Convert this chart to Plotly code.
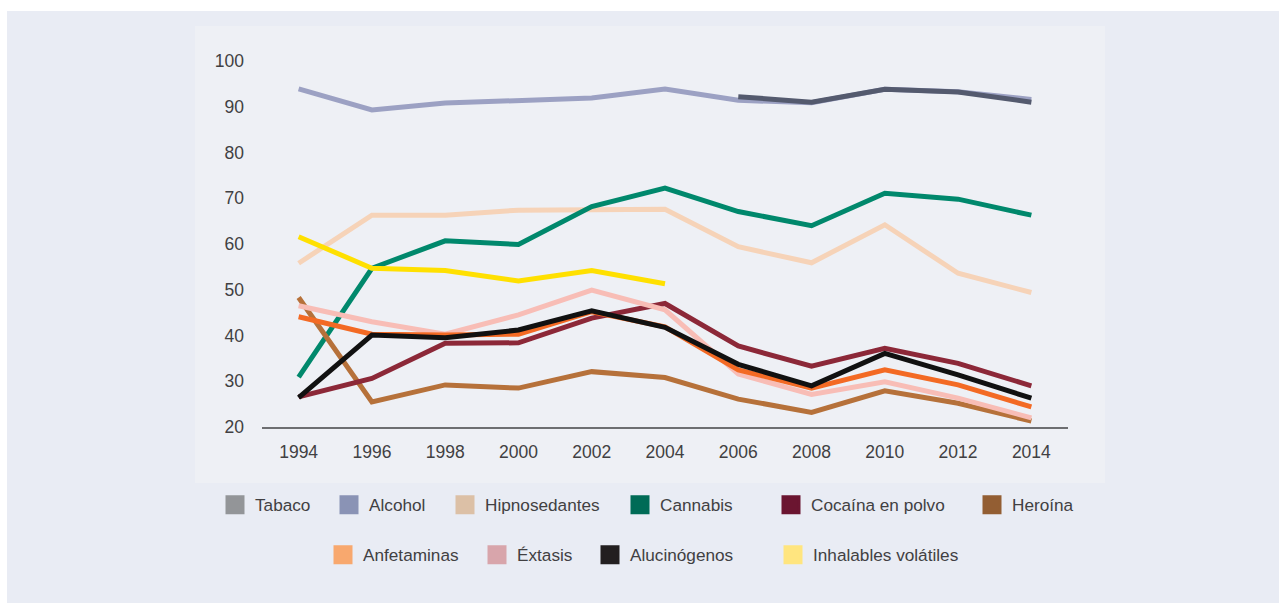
import plotly.graph_objects as go

# Survey years
years = [1994, 1996, 1998, 2000, 2002, 2004, 2006, 2008, 2010, 2012, 2014]

# Prevalence (%) per substance
tabaco = [None, None, None, None, None, None, 92.2, 91.0, 93.8, 93.2, 91.0]
alcohol = [93.9, 89.3, 90.8, 91.4, 91.9, 93.9, 91.4, 90.9, 93.8, 93.3, 91.6]
hipnosedantes = [55.8, 66.3, 66.3, 67.4, 67.5, 67.6, 59.4, 55.9, 64.2, 53.6, 49.4]
cannabis = [30.9, 54.7, 60.7, 59.9, 68.2, 72.2, 67.1, 64.0, 71.1, 69.8, 66.3]
cocaina = [26.6, 30.6, 38.3, 38.4, 43.8, 47.0, 37.7, 33.3, 37.2, 33.9, 29.0]
heroina = [48.3, 25.5, 29.2, 28.5, 32.1, 30.8, 26.1, 23.2, 27.9, 25.2, 21.3]
anfetaminas = [44.1, 40.3, 40.1, 40.3, 45.2, 41.9, 32.5, 28.5, 32.5, 29.2, 24.4]
extasis = [46.5, 43.0, 40.3, 44.5, 49.9, 45.6, 31.6, 27.1, 29.9, 26.3, 22.0]
alucinogenos = [26.4, 40.1, 39.5, 41.2, 45.4, 41.8, 33.7, 29.0, 36.1, 31.4, 26.3]
inhalables = [61.6, 54.7, 54.2, 51.9, 54.2, 51.3, None, None, None, None, None]

# Axis ticks
y_ticks = [20, 30, 40, 50, 60, 70, 80, 90, 100]
x_ticks = years

# (label, values, line colour), in drawing order
line_series = [
    ("Alcohol", alcohol, "#9ca1c3"),
    ("Hipnosedantes", hipnosedantes, "#f6d3b8"),
    ("Cannabis", cannabis, "#00886c"),
    ("Heroína", heroina, "#b6713a"),
    ("Cocaína en polvo", cocaina, "#8c2838"),
    ("Éxtasis", extasis, "#f8bdb6"),
    ("Anfetaminas", anfetaminas, "#f36a24"),
    ("Inhalables volátiles", inhalables, "#ffe000"),
    ("Alucinógenos", alucinogenos, "#111111"),
    ("Tabaco", tabaco, "#545a6e"),
]

# legend swatches: (label, swatch colour, swatch left px, row centre px)
legend_items = [
    ("Tabaco", "#939598", 226, 505),
    ("Alcohol", "#8a93b5", 340, 505),
    ("Hipnosedantes", "#dcc0a6", 456, 505),
    ("Cannabis", "#006b56", 631, 505),
    ("Cocaína en polvo", "#6b1530", 782, 505),
    ("Heroína", "#935e33", 983, 505),
    ("Anfetaminas", "#f8a86e", 334, 555),
    ("Éxtasis", "#d8a5ab", 488, 555),
    ("Alucinógenos", "#231f20", 601, 555),
    ("Inhalables volátiles", "#ffe57f", 784, 555),
]

FONT = "Liberation Sans, Arial, sans-serif"
TEXT = "#414042"

L, R, T, B = 262, 1068, 61, 427
W, H = 1279, 603
pw, ph = R - L, B - T


def px_x(p):
    return (p - L) / pw


def px_y(p):
    return (B - p) / ph


fig = go.Figure()

for name, vals, color in line_series:
    fig.add_trace(go.Scatter(
        x=years, y=vals, mode="lines", name=name, showlegend=False,
        line=dict(color=color, width=5), connectgaps=False, hoverinfo="x+y+name",
    ))

legend_layout = {}
for i, (name, color, left, cy) in enumerate(legend_items):
    key = "legend" if i == 0 else f"legend{i + 1}"
    fig.add_trace(go.Scatter(
        x=[None], y=[None], mode="markers", name=name, legend=key,
        marker=dict(symbol="square", size=16, color=color,
                    line=dict(color=color, width=3)),
    ))
    legend_layout[key] = dict(
        x=px_x(left - 11), y=px_y(cy),
        orientation="h", xanchor="left", yanchor="middle",
        bgcolor="rgba(0,0,0,0)", borderwidth=0,
        font=dict(family=FONT, size=17.2, color=TEXT),
        itemwidth=30, itemclick=False, itemdoubleclick=False,
    )

# outer panel and inner chart box
fig.add_shape(type="rect", xref="paper", yref="paper",
              x0=px_x(7), x1=px_x(W + 5), y0=px_y(11), y1=px_y(H + 5),
              fillcolor="#e9ecf4", line_width=0, layer="below")
fig.add_shape(type="rect", xref="paper", yref="paper",
              x0=px_x(195), x1=px_x(1105), y0=px_y(26), y1=px_y(483),
              fillcolor="#eef0f5", line_width=0, layer="below")

fig.update_layout(
    width=W, height=H,
    margin=dict(l=L, r=W - R, t=T, b=H - B, pad=0),
    paper_bgcolor="#ffffff",
    plot_bgcolor="rgba(0,0,0,0)",
    font=dict(family=FONT, size=17.5, color=TEXT),
    xaxis=dict(
        range=[1993, 2015], tickmode="array", tickvals=x_ticks,
        ticktext=[str(v) for v in x_ticks],
        showgrid=False, zeroline=False, showline=True,
        linecolor="#6d6e71", linewidth=2, ticks="", ticklabelstandoff=8,
        tickfont=dict(family=FONT, size=17.5, color=TEXT),
    ),
    yaxis=dict(
        range=[20, 100], tickmode="array", tickvals=y_ticks,
        ticktext=[str(v) for v in y_ticks],
        showgrid=False, zeroline=False, showline=False, ticks="",
        ticklabelstandoff=17,
        tickfont=dict(family=FONT, size=17.5, color=TEXT),
    ),
    showlegend=True,
    **legend_layout,
)

fig.write_html("out.html")
